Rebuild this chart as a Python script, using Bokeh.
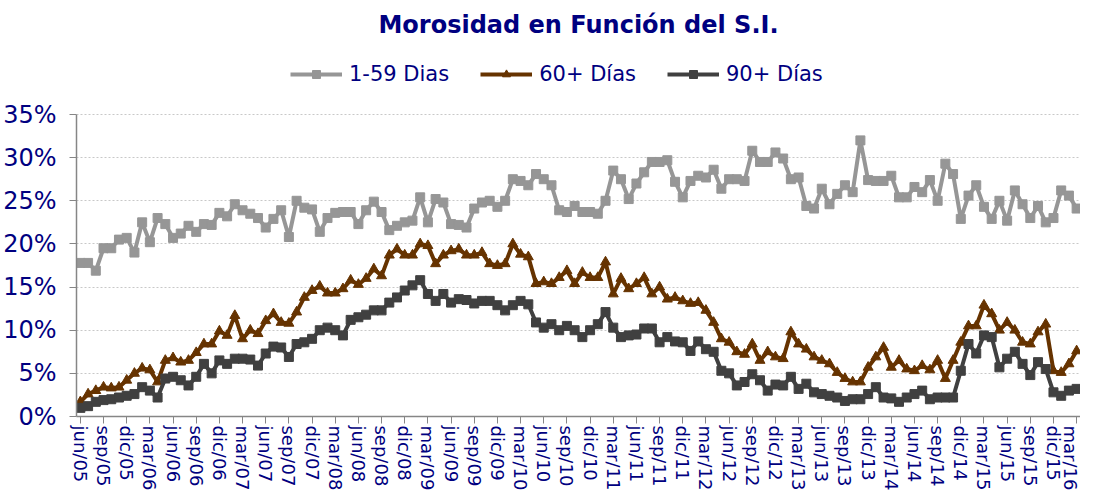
from bokeh.plotting import figure
from bokeh.models import (Range1d, FixedTicker, PrintfTickFormatter, Legend,
                          LegendItem, ColumnDataSource)
from bokeh.embed import file_html
from bokeh.resources import INLINE

# ---- data (percent), monthly jun/05 .. mar/16 ----
dias_1_59 = [17.8, 17.8, 16.9, 19.5, 19.5, 20.5, 20.7, 19.0, 22.5, 20.2, 23.0, 22.3, 20.7, 21.2, 22.1, 21.4, 22.3, 22.2, 23.6, 23.2, 24.6,
             23.9, 23.5, 23.0, 21.9, 22.9, 23.9, 20.8, 25.0, 24.2, 24.0, 21.4, 23.0, 23.6, 23.7, 23.7, 22.3, 23.9, 24.9, 23.7, 21.6, 22.1, 22.5,
             22.7, 25.4, 22.5, 25.2, 24.8, 22.3, 22.2, 21.9, 24.1, 24.8, 25.0, 24.3, 25.0, 27.5, 27.3, 26.8, 28.1, 27.5, 26.8, 23.9, 23.7,
             24.4, 23.7, 23.7, 23.5, 25.0, 28.5, 27.5, 25.2, 27.0, 28.3, 29.5, 29.5, 29.7, 27.2, 25.4, 27.3, 27.9, 27.7, 28.6, 26.4, 27.5,
             27.5, 27.3, 30.8, 29.5, 29.5, 30.6, 29.9, 27.5, 27.7, 24.4, 24.1, 26.4, 24.6, 25.8, 26.8, 26.0, 32.0, 27.4, 27.3, 27.3, 27.9,
             25.4, 25.4, 26.6, 26.0, 27.4, 25.0, 29.3, 28.1, 22.9, 25.6, 26.8, 24.3, 22.9, 25.0, 22.7, 26.2, 24.6, 23.0, 24.4, 22.5, 23.0, 26.2, 25.6, 24.1]

dias_60 = [1.7, 2.6, 3.0, 3.4, 3.3, 3.4, 4.2, 5.0, 5.6, 5.4, 4.0, 6.5, 6.8, 6.3, 6.5, 7.4, 8.4, 8.4, 9.9, 9.4, 11.7,
           9.0, 10.0, 9.6, 11.1, 11.9, 10.9, 10.8, 12.1, 13.8, 14.6, 15.1, 14.3, 14.3, 14.8, 15.8, 15.3, 16.0, 17.1, 16.3, 18.7, 19.4, 18.7,
           18.7, 20.0, 19.8, 17.7, 18.7, 19.2, 19.4, 18.7, 18.7, 19.0, 17.7, 17.5, 17.7, 20.0, 18.8, 18.5, 15.4, 15.6, 15.4, 16.1, 16.9,
           15.4, 16.7, 16.1, 16.1, 17.9, 14.2, 16.0, 14.8, 15.4, 16.1, 14.2, 15.0, 13.6, 13.8, 13.4, 13.1, 13.2, 12.3, 10.9, 9.0, 8.6,
           7.5, 7.2, 8.4, 6.5, 7.5, 6.9, 6.7, 9.8, 8.4, 7.8, 6.9, 6.5, 6.1, 5.1, 4.4, 4.0, 4.0, 5.7, 6.9, 8.0, 5.7,
           6.5, 5.5, 5.3, 5.9, 5.4, 6.5, 4.4, 6.5, 8.6, 10.5, 10.5, 12.9, 11.9, 10.0, 10.9, 10.0, 8.6, 8.4, 9.8, 10.7, 5.3, 5.1, 6.1, 7.6]

dias_90 = [1.0, 1.2, 1.7, 1.9, 2.0, 2.2, 2.4, 2.6, 3.4, 3.0, 2.2, 4.4, 4.6, 4.2, 3.6, 4.6, 6.1, 5.0, 6.5, 6.1, 6.7,
           6.7, 6.6, 5.9, 7.3, 8.1, 8.0, 6.9, 8.4, 8.6, 9.0, 10.0, 10.3, 10.0, 9.4, 11.2, 11.5, 11.8, 12.3, 12.3, 13.2, 13.8, 14.6,
           15.2, 15.8, 14.2, 13.4, 14.2, 13.2, 13.6, 13.5, 13.1, 13.4, 13.4, 12.9, 12.3, 12.9, 13.4, 13.0, 10.9, 10.3, 10.7, 10.0, 10.5,
           10.0, 9.2, 10.0, 10.7, 12.1, 10.3, 9.2, 9.4, 9.5, 10.2, 10.2, 8.6, 9.2, 8.7, 8.6, 7.6, 8.7, 7.8, 7.5, 5.3, 5.0,
           3.6, 4.0, 4.9, 4.2, 3.0, 3.7, 3.6, 4.6, 3.2, 3.8, 2.8, 2.6, 2.4, 2.2, 1.8, 2.0, 2.0, 2.6, 3.4, 2.2, 2.1,
           1.7, 2.2, 2.6, 3.0, 2.0, 2.2, 2.2, 2.2, 5.3, 8.4, 7.3, 9.4, 9.2, 5.7, 6.7, 7.5, 6.1, 4.8, 6.3, 5.5, 2.8, 2.4, 3.0, 3.2]

tick_labels = ["jun/05", "sep/05", "dic/05",
               "mar/06", "jun/06", "sep/06", "dic/06",
               "mar/07", "jun/07", "sep/07", "dic/07",
               "mar/08", "jun/08", "sep/08", "dic/08",
               "mar/09", "jun/09", "sep/09", "dic/09",
               "mar/10", "jun/10", "sep/10", "dic/10",
               "mar/11", "jun/11", "sep/11", "dic/11",
               "mar/12", "jun/12", "sep/12", "dic/12",
               "mar/13", "jun/13", "sep/13", "dic/13",
               "mar/14", "jun/14", "sep/14", "dic/14",
               "mar/15", "jun/15", "sep/15", "dic/15",
               "mar/16"]

y_ticks = [0, 5, 10, 15, 20, 25, 30, 35]

n = len(dias_1_59)
idx = list(range(n))
src = ColumnDataSource(dict(x=idx, a=dias_1_59, b=dias_60, c=dias_90))

NAVY = "#000080"
FONT = "DejaVu Sans"
PX_PER_PCT = 302 / 35.0
TOP_EXTRA = 68            # px of frame above the 35% line (legend room)
FRAME_H = 302 + TOP_EXTRA

p = figure(frame_width=1004, frame_height=FRAME_H, output_backend="svg", toolbar_location=None,
           x_range=Range1d(-0.5, n - 0.5),
           y_range=Range1d(0, 35 + TOP_EXTRA / PX_PER_PCT),
           min_border_left=0, min_border_right=0, min_border_top=0,
           min_border_bottom=0)
p.title.text = "Morosidad en Función del S.I."
p.title.align = "center"
p.title.text_font = FONT
p.title.text_font_style = "bold"
p.title.text_font_size = "24px"
p.title.text_color = NAVY
p.title.standoff = 16
p.outline_line_color = None
p.background_fill_color = "white"

c1, c2, c3 = "#969696", "#663300", "#404040"
l1 = p.line("x", "a", source=src, line_color=c1, line_width=4)
s1 = p.scatter("x", "a", source=src, marker="square", size=9, fill_color=c1, line_color=c1)
l2 = p.line("x", "b", source=src, line_color=c2, line_width=4)
s2 = p.scatter("x", "b", source=src, marker="triangle", size=10, fill_color=c2, line_color=c2)
l3 = p.line("x", "c", source=src, line_color=c3, line_width=4)
s3 = p.scatter("x", "c", source=src, marker="square", size=9, fill_color=c3, line_color=c3)

# axes
p.yaxis.ticker = FixedTicker(ticks=y_ticks)
p.yaxis.formatter = PrintfTickFormatter(format="%d%%")
p.yaxis.bounds = (0, 35)
p.xaxis.ticker = FixedTicker(ticks=[3 * k for k in range(len(tick_labels))])
p.xaxis.major_label_overrides = {3 * k: t for k, t in enumerate(tick_labels)}
p.xaxis.major_label_orientation = "vertical"
for ax in (p.xaxis, p.yaxis):
    ax.axis_line_color = "#868686"
    ax.axis_line_width = 1.5
    ax.major_tick_line_color = "#868686"
    ax.major_tick_out = 7
    ax.major_tick_in = 0
    ax.minor_tick_line_color = None
    ax.major_label_text_color = NAVY
    ax.major_label_text_font = FONT
p.yaxis.major_label_text_font_size = "24px"
p.xaxis.major_label_text_font_size = "18px"
p.xaxis.major_label_standoff = 2
p.yaxis.major_label_standoff = 13

p.xgrid.grid_line_color = None
p.ygrid.grid_line_color = "#c8c8c8"
p.ygrid.grid_line_dash = "2 2"
p.ygrid.grid_line_width = 1

legend = Legend(items=[LegendItem(label="1-59 Dias", renderers=[l1, s1]),
                       LegendItem(label="60+ Días", renderers=[l2, s2]),
                       LegendItem(label="90+ Días", renderers=[l3, s3])],
                orientation="horizontal", location=(214, 302 + 28))
legend.label_text_font = FONT
legend.label_text_font_size = "21px"
legend.label_text_color = NAVY
legend.glyph_width = 52
legend.glyph_height = 20
legend.label_height = 20
legend.label_standoff = 7
legend.spacing = 31
legend.padding = 0
legend.margin = 0
legend.border_line_color = None
legend.background_fill_alpha = 0
p.add_layout(legend, "center")

open("out.html", "w").write(file_html(p, INLINE))
